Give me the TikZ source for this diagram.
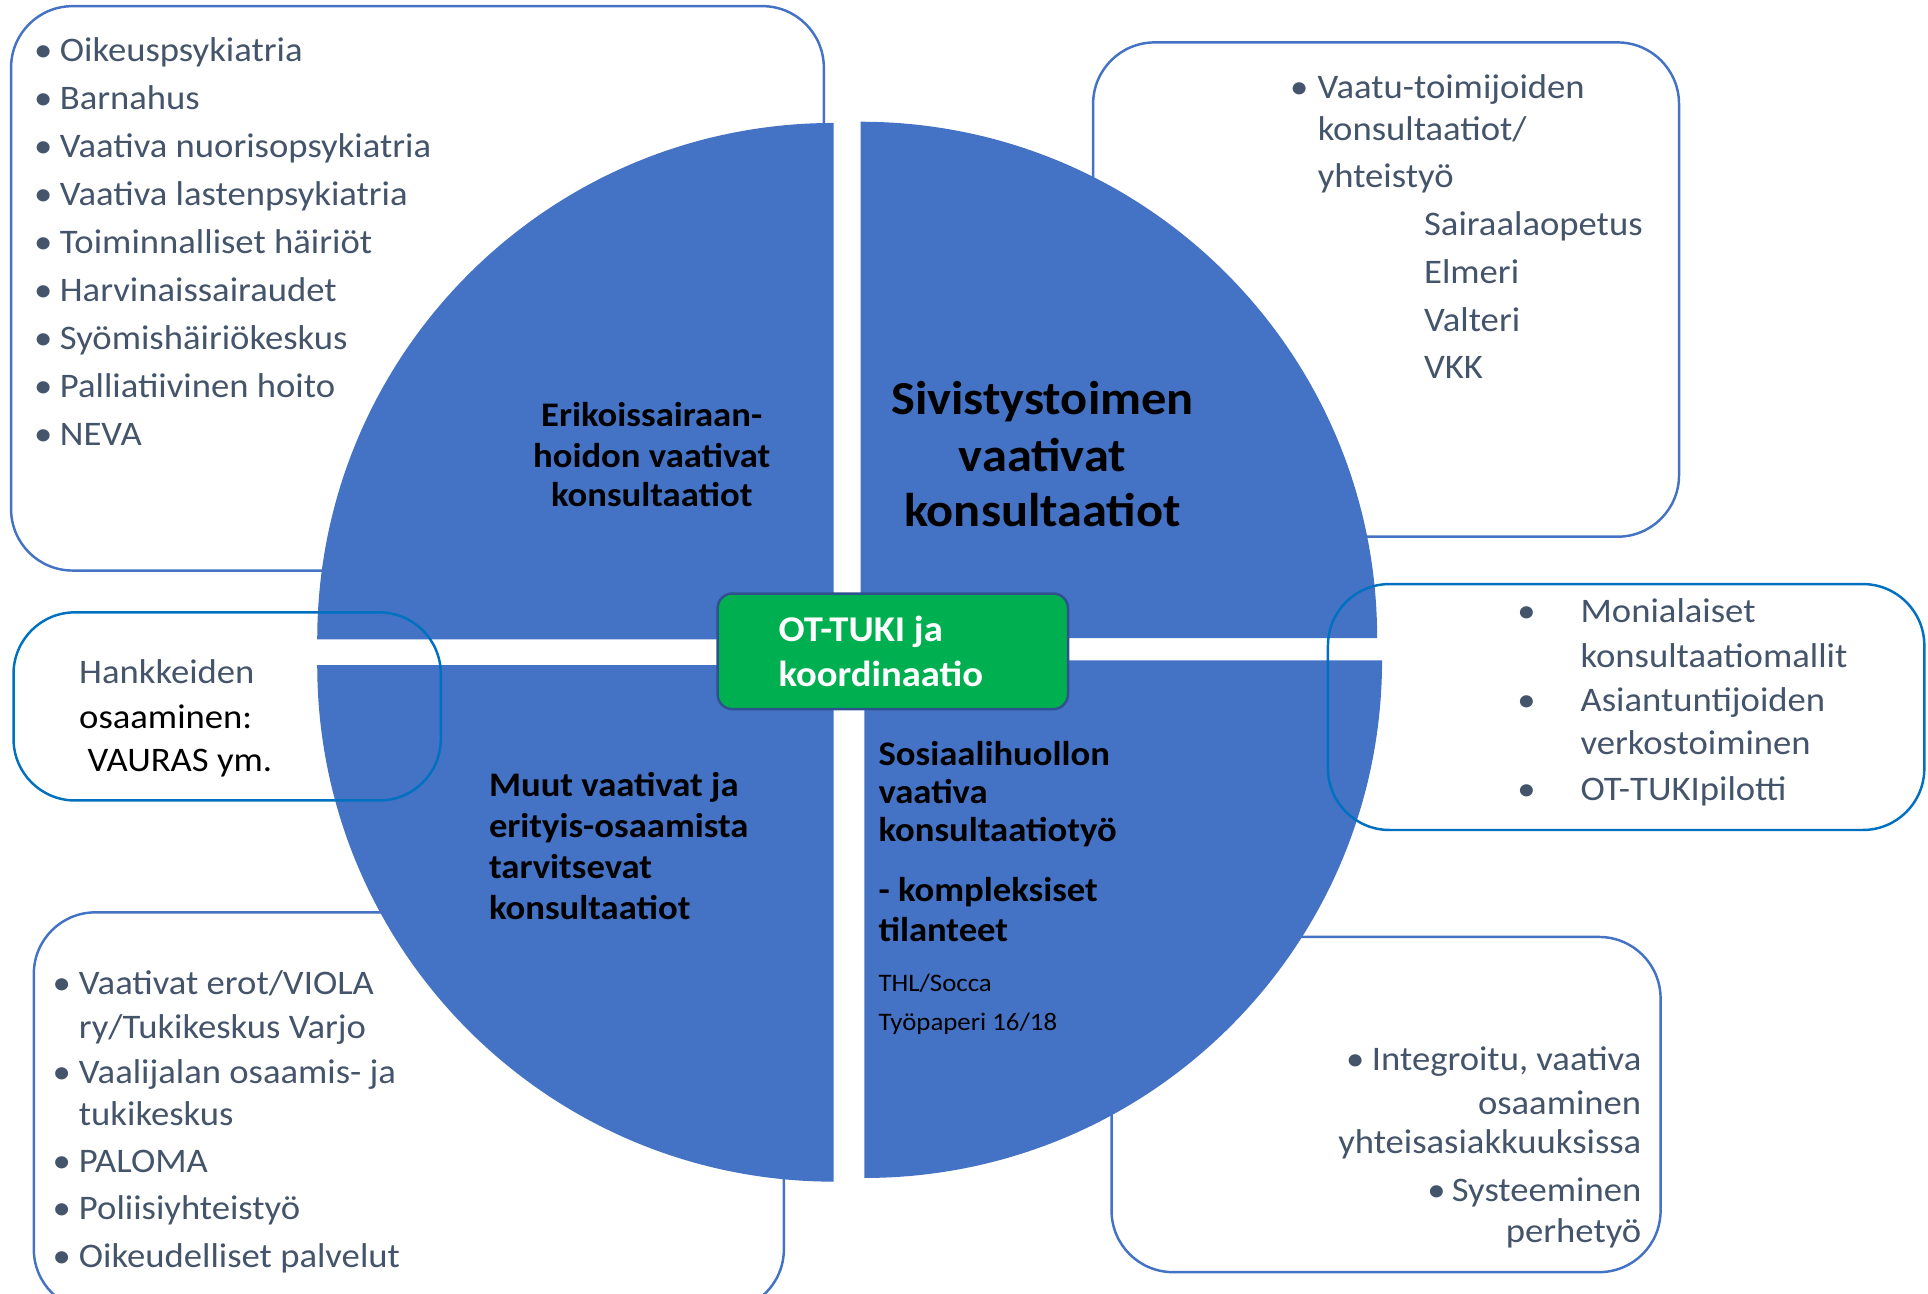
\documentclass[tikz,border=0pt]{standalone}
\usepackage{fontspec}
\setmainfont{Carlito}[FakeStretch=1.065]
\definecolor{qblue}{HTML}{4472C4}
\definecolor{lblue}{HTML}{0070C0}
\definecolor{txtc}{HTML}{44546A}
\definecolor{ggreen}{HTML}{00B050}
\definecolor{gborder}{HTML}{2F528F}
\newcommand\bul[1]{\hspace*{-#1pt}\makebox[0pt]{•}\hspace*{#1pt}}
\begin{document}
\begin{tikzpicture}[x=1pt,y=-1pt,
  box/.style={draw=qblue, line width=2pt, rounded corners=50pt},
  boxb/.style={draw=lblue, line width=2pt, rounded corners=50pt},
  quad/.style={fill=qblue},
  li/.style={anchor=base west, inner sep=0pt, text=txtc, font=\fontsize{28}{34}\selectfont},
  lir/.style={anchor=base east, inner sep=0pt, text=txtc, font=\fontsize{28}{34}\selectfont},
  qlab/.style={inner sep=0pt, text=black, font=\bfseries\fontsize{28}{33}\selectfont},
  qbig/.style={inner sep=0pt, text=black, font=\bfseries\fontsize{38.5}{44}\selectfont},
  qsmall/.style={inner sep=0pt, text=black, font=\fontsize{20.5}{24}\selectfont},
  gtxt/.style={anchor=base west, inner sep=0pt, text=white, font=\bfseries\fontsize{29.5}{34}\selectfont}]
\useasboundingbox (0,0) rectangle (1568,1051.6);
\clip (0,0) rectangle (1568,1051.6);

% boxes behind the circle
\draw[box] (9,5) rectangle (670,464);
\draw[box] (889,34.5) rectangle (1365.5,436.5);
\draw[box] (27.5,742) rectangle (637.5,1066);
\draw[box] (904,762) rectangle (1350.5,1034.6);

% quadrants
\fill[quad] (678,520) -- (258,520) arc[start angle=180, end angle=270, radius=420] -- cycle;
\fill[quad] (700,519) -- (700,99) arc[start angle=270, end angle=360, radius=420] -- cycle;
\fill[quad] (703,537) -- (1124,537) arc[start angle=0, end angle=90, radius=421] -- cycle;
\fill[quad] (678,541) -- (678,961) arc[start angle=90, end angle=180, radius=420] -- cycle;

% boxes in front
\draw[boxb] (11,498) rectangle (358.5,651);
\draw[boxb] (1080,475) rectangle (1565,675);

% centre box
\node[draw=gborder, line width=2pt, fill=ggreen, rounded corners=12pt, minimum width=285pt, minimum height=94pt, inner sep=0pt] (ot) at (726.1,529.7) {};
\node[gtxt] (ot1) at (633,521.9) {OT-TUKI ja};
\node[gtxt] (ot2) at (633,558.4) {koordinaatio};

% top-left list
\foreach \t [count=\i] in {Oikeuspsykiatria, Barnahus, Vaativa nuorisopsykiatria, Vaativa lastenpsykiatria, Toiminnalliset häiriöt, Harvinaissairaudet, Syömishäiriökeskus, Palliatiivinen hoito, NEVA}
  \node[li] (tl\i) at (48.5,{50.3+39*(\i-1)}) {\bul{13.5}\t};

% top-right list
\node[li] (trA) at (1071.5,80.4) {\bul{15}Vaatu-toimijoiden};
\node[li] (trB) at (1071.5,114) {konsultaatiot/};
\node[li] (trC) at (1071.5,152.5) {yhteistyö};
\node[li] (trD) at (1158,191.6) {Sairaalaopetus};
\node[li] (trE) at (1158,230.5) {Elmeri};
\node[li] (trF) at (1158,269.7) {Valteri};
\node[li] (trG) at (1158,307.5) {VKK};

% right-middle list
\node[li] (rm1) at (1285.3,506.4) {\bul{44}Monialaiset};
\node[li] (rm2) at (1285.3,542.7) {konsultaatiomallit};
\node[li] (rm3) at (1285.3,578.8) {\bul{44}Asiantuntijoiden};
\node[li] (rm4) at (1285.3,614) {verkostoiminen};
\node[li] (rm5) at (1285.3,651.2) {\bul{44}OT-TUKIpilotti};

% Hankkeiden
\node[li] (hk1) at (64.2,555.7) {Hankkeiden};
\node[li, text=black] (hk2) at (64.2,592.3) {osaaminen:};
\node[li, text=black] (hk3) at (71,627.6) {VAURAS ym.};

% bottom-left list
\node[li] (bl1) at (64,808.8) {\bul{14}Vaativat erot/VIOLA};
\node[li] (bl2) at (64,844.7) {ry/Tukikeskus Varjo};
\node[li] (bl3) at (64,881.4) {\bul{14}Vaalijalan osaamis- ja};
\node[li] (bl4) at (64,915) {tukikeskus};
\node[li] (bl5) at (64,953.4) {\bul{14}PALOMA};
\node[li] (bl6) at (64,992) {\bul{14}Poliisiyhteistyö};
\node[li] (bl7) at (64,1031) {\bul{14}Oikeudelliset palvelut};

% bottom-right list
\node[lir] (br1) at (1335,871) {\bul{13.5}Integroitu, vaativa};
\node[lir] (br2) at (1335,906) {osaaminen};
\node[lir] (br3) at (1335,938.4) {yhteisasiakkuuksissa};
\node[lir] (br4) at (1335,977) {\bul{12.5}Systeeminen};
\node[lir] (br5) at (1335,1010.4) {perhetyö};

% quadrant labels
\node[qlab, anchor=base] (q1a) at (530,346.7) {Erikoissairaan-};
\node[qlab, anchor=base] (q1b) at (530,380.2) {hoidon vaativat};
\node[qlab, anchor=base] (q1c) at (530,412) {konsultaatiot};

\node[qbig, anchor=base] (q2a) at (847.8,337.5) {Sivistystoimen};
\node[qbig, anchor=base] (q2b) at (847.8,383.6) {vaativat};
\node[qbig, anchor=base] (q2c) at (847.8,428.3) {konsultaatiot};

\node[qlab, anchor=base west] (q3a) at (397.5,647.7) {Muut vaativat ja};
\node[qlab, anchor=base west] (q3b) at (397.5,681.2) {erityis-osaamista};
\node[qlab, anchor=base west] (q3c) at (397.5,714.7) {tarvitsevat};
\node[qlab, anchor=base west] (q3d) at (397.5,748.2) {konsultaatiot};

\node[qlab, anchor=base west] (q4a) at (714.3,622.2) {Sosiaalihuollon};
\node[qlab, anchor=base west] (q4b) at (714.3,653.3) {vaativa};
\node[qlab, anchor=base west] (q4c) at (714.3,684.5) {konsultaatiotyö};
\node[qlab, anchor=base west] (q4d) at (714.3,733.3) {- kompleksiset};
\node[qlab, anchor=base west] (q4e) at (714.3,765.8) {tilanteet};
\node[qsmall, anchor=base west] (q4f) at (714.3,806.5) {THL/Socca};
\node[qsmall, anchor=base west] (q4g) at (714.3,837.7) {Työpaperi 16/18};
\end{tikzpicture}
\end{document}
